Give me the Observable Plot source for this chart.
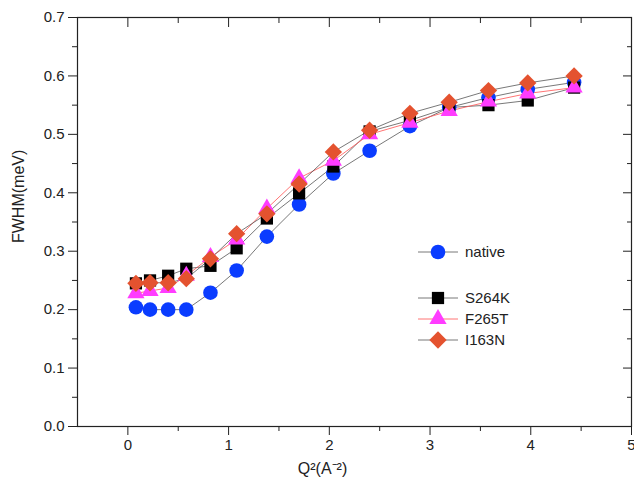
<!DOCTYPE html>
<html>
<head>
<meta charset="utf-8">
<script src="https://cdn.jsdelivr.net/npm/d3@7"></script>
<script src="https://cdn.jsdelivr.net/npm/@observablehq/plot@0.6"></script>
<style>
  body { margin: 0; background: #fff; }
  #chart { position: relative; width: 634px; height: 487px; font-family: "Liberation Sans", Arial, sans-serif; }
  #legend { position: absolute; left: 0; top: 0; pointer-events: none; }
</style>
</head>
<body>
<div id="chart"></div>
<script>
// Q^2 (Å^-2) sampling points shared by all four samples
const q2 = [0.08, 0.22, 0.40, 0.58, 0.82, 1.08, 1.38, 1.70, 2.04, 2.40, 2.80, 3.19, 3.58, 3.97, 4.43];

// FWHM (meV) per sample
const nativeFwhm = [0.204, 0.200, 0.200, 0.200, 0.229, 0.267, 0.325, 0.380, 0.433, 0.472, 0.514, 0.546, 0.563, 0.577, 0.589];
const s264kFwhm  = [0.245, 0.250, 0.258, 0.270, 0.275, 0.305, 0.356, 0.399, 0.445, 0.505, 0.524, 0.546, 0.550, 0.558, 0.580];
const f265tFwhm  = [0.228, 0.232, 0.237, 0.258, 0.290, 0.320, 0.373, 0.425, 0.455, 0.500, 0.520, 0.540, 0.556, 0.570, 0.580];
const i163nFwhm  = [0.245, 0.246, 0.246, 0.253, 0.287, 0.330, 0.364, 0.415, 0.470, 0.507, 0.536, 0.555, 0.575, 0.588, 0.600];

const seriesNames = ["native", "S264K", "F265T", "I163N"];
const seriesValues = [nativeFwhm, s264kFwhm, f265tFwhm, i163nFwhm];

// Tick positions
const xMajorTicks = [0, 1, 2, 3, 4, 5];
const xMinorTicks = [0.5, 1.5, 2.5, 3.5, 4.5];
const yMajorTicks = [0, 0.1, 0.2, 0.3, 0.4, 0.5, 0.6, 0.7];
const yMinorTicks = [0.05, 0.15, 0.25, 0.35, 0.45, 0.55, 0.65];

// Marker and line styling per sample
const styles = {
  native: {symbol: "circle",   fill: "#0a3cff", r: 7.3, line: "#555", lineWidth: 0.8},
  S264K:  {symbol: "square",   fill: "#000000", r: 6.9, line: "#555", lineWidth: 0.8},
  F265T:  {symbol: "triangle", fill: "#ff3cff", r: 6.4, line: "#ff5050", lineWidth: 0.8},
  I163N:  {symbol: "diamond2", fill: "#e4522f", r: 7.8, line: "#555", lineWidth: 0.8}
};

const rows = seriesNames.flatMap((name, k) =>
  q2.map((q, i) => ({series: name, q2: q, fwhm: seriesValues[k][i]}))
);
const bySeries = name => rows.filter(d => d.series === name);

const fmt1 = d3.format(".1f");
const blank = () => "";

const plot = Plot.plot({
  width: 634,
  height: 487,
  marginLeft: 77,
  marginRight: 3,
  marginTop: 17,
  marginBottom: 61,
  style: {fontFamily: "'Liberation Sans', Arial, sans-serif", fontSize: "15px", color: "#222", background: "#fff"},
  x: {domain: [-0.5, 5], axis: null},
  y: {domain: [0, 0.7], axis: null},
  marks: [
    // outward ticks with labels (left, bottom)
    Plot.axisY(yMajorTicks, {anchor: "left", tickSize: 9, tickPadding: 4, tickFormat: fmt1, label: null, fontSize: 15, fill: "#222"}),
    Plot.axisY(yMinorTicks, {anchor: "left", tickSize: 5, tickFormat: blank, label: null}),
    Plot.axisX(xMajorTicks, {anchor: "bottom", tickSize: 9, tickPadding: 4, tickFormat: d => d, label: null, fontSize: 15, fill: "#222"}),
    Plot.axisX(xMinorTicks, {anchor: "bottom", tickSize: 5, tickFormat: blank, label: null}),
    // inward ticks (right, top)
    Plot.axisY(yMajorTicks, {anchor: "right", tickSize: -9, tickFormat: blank, label: null}),
    Plot.axisY(yMinorTicks, {anchor: "right", tickSize: -5, tickFormat: blank, label: null}),
    Plot.axisX(xMajorTicks, {anchor: "top", tickSize: -9, tickFormat: blank, label: null}),
    Plot.axisX(xMinorTicks, {anchor: "top", tickSize: -5, tickFormat: blank, label: null}),
    Plot.frame({stroke: "#222", strokeWidth: 1.2}),
    // connecting lines
    ...seriesNames.map(name =>
      Plot.line(bySeries(name), {x: "q2", y: "fwhm", stroke: styles[name].line, strokeWidth: styles[name].lineWidth})
    ),
    // markers
    ...seriesNames.map(name =>
      Plot.dot(bySeries(name), {x: "q2", y: "fwhm", symbol: styles[name].symbol, fill: styles[name].fill, r: styles[name].r, stroke: "none"})
    ),
    // axis titles
    Plot.text(["FWHM(meV)"], {frameAnchor: "left", dx: -59, dy: 21, rotate: -90, fontSize: 16, fill: "#222"}),
    Plot.text(["Q²(A⁻²)"], {frameAnchor: "bottom", dx: -32, dy: 47, fontSize: 16, fill: "#222"})
  ]
});

const chart = document.getElementById("chart");
chart.appendChild(plot);

// Legend drawn over the plotting area
const legendRows = [
  {name: "native", y: 252},
  {name: "S264K", y: 298},
  {name: "F265T", y: 319},
  {name: "I163N", y: 340}
];
const symbolTypes = {circle: d3.symbolCircle, square: d3.symbolSquare, triangle: d3.symbolTriangle, diamond2: d3.symbolDiamond2};
const legend = d3.select(chart).append("svg")
  .attr("id", "legend")
  .attr("width", 634)
  .attr("height", 487);
const g = legend.selectAll("g").data(legendRows).join("g")
  .attr("transform", d => `translate(438,${d.y})`);
g.append("line")
  .attr("x1", -20).attr("x2", 20)
  .attr("stroke", d => styles[d.name].line)
  .attr("stroke-width", 0.8);
g.append("path")
  .attr("d", d => d3.symbol(symbolTypes[styles[d.name].symbol], Math.PI * styles[d.name].r ** 2)())
  .attr("fill", d => styles[d.name].fill);
g.append("text")
  .attr("x", 27)
  .attr("dy", "0.35em")
  .attr("font-size", 15)
  .attr("fill", "#222")
  .attr("font-family", "'Liberation Sans', Arial, sans-serif")
  .text(d => d.name);
</script>
</body>
</html>
